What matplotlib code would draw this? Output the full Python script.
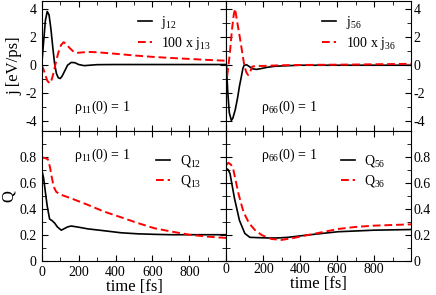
import numpy as np
import matplotlib
matplotlib.use('Agg')
import matplotlib.pyplot as plt
from matplotlib.ticker import MultipleLocator

plt.rcParams['font.family'] = ['Liberation Serif', 'DejaVu Serif']
plt.rcParams['mathtext.fontset'] = 'custom'
plt.rcParams['mathtext.rm'] = 'Liberation Serif'
plt.rcParams['mathtext.it'] = 'Liberation Serif:italic'
plt.rcParams['axes.unicode_minus'] = False
plt.rcParams['font.size'] = 10

# currents, rho_11(0) = 1
t_j12 = [0, 10, 20, 30, 40, 50, 60, 70, 80, 90, 100, 110, 125, 140, 160, 180, 200, 230, 260, 300, 400, 600, 800, 1000]
j12 = [0, 1.6, 3.2, 3.85, 3.6, 2.6, 1.3, 0.1, -0.6, -0.9, -0.95, -0.8, -0.4, 0.0, 0.2, 0.18, 0.05, -0.03, 0.0, 0.04, 0.05, 0.05, 0.05, 0.05]
t_j13 = [0, 10, 20, 30, 43, 55, 65, 75, 90, 105, 119, 135, 150, 170, 187, 220, 260, 300, 400, 500, 600, 700, 800, 900, 1000]
j13 = [0, -0.3, -0.7, -1.1, -1.3, -1.0, -0.5, 0.1, 0.9, 1.45, 1.65, 1.5, 1.25, 1.0, 0.88, 0.92, 0.95, 0.93, 0.82, 0.7, 0.6, 0.52, 0.45, 0.38, 0.32]

# currents, rho_66(0) = 1
t_j56 = [0, 8, 16, 27, 35, 48, 60, 71, 80, 90, 97, 110, 125, 140, 162, 185, 220, 260, 300, 400, 600, 800, 1000]
j56 = [0, -2.0, -3.4, -3.95, -3.8, -3.2, -2.4, -1.5, -0.9, -0.2, 0.0, 0.03, -0.1, -0.25, -0.3, -0.25, -0.15, -0.08, -0.05, 0.0, 0.0, 0.0, 0.0]
t_j36 = [0, 4, 10, 20, 30, 40, 47, 60, 73, 85, 97, 108, 118, 128, 140, 160, 200, 300, 500, 700, 1000]
j36 = [0, -0.8, -0.2, 1.0, 2.5, 3.6, 4.05, 3.0, 2.0, 1.0, 0.0, -0.5, -0.7, -0.5, -0.1, -0.05, -0.05, 0.0, 0.03, 0.05, 0.1]

# Q, rho_11(0) = 1
t_q12 = [0, 10, 19, 30, 43, 55, 70, 85, 106, 120, 140, 160, 200, 250, 330, 430, 520, 610, 700, 800, 900, 1000]
q12 = [0.70, 0.64, 0.54, 0.42, 0.32, 0.31, 0.29, 0.26, 0.235, 0.245, 0.26, 0.267, 0.258, 0.245, 0.232, 0.215, 0.207, 0.203, 0.2, 0.2, 0.2, 0.2]
t_q13 = [0, 20, 34, 45, 55, 65, 79, 100, 160, 250, 340, 430, 520, 610, 700, 800, 900, 1000]
q13 = [0.795, 0.79, 0.78, 0.72, 0.64, 0.57, 0.53, 0.51, 0.48, 0.43, 0.377, 0.334, 0.29, 0.25, 0.225, 0.20, 0.185, 0.175]

# Q, rho_66(0) = 1
t_q56 = [0, 10, 20, 44, 71, 100, 127, 160, 226, 280, 334, 442, 604, 800, 1000]
q56 = [0.71, 0.70, 0.67, 0.48, 0.31, 0.21, 0.18, 0.178, 0.175, 0.175, 0.18, 0.198, 0.223, 0.235, 0.24]
t_q36 = [0, 11, 25, 38, 50, 65, 80, 92, 105, 119, 137, 155, 175, 191, 220, 245, 299, 371, 442, 514, 604, 700, 800, 900, 1000]
q36 = [0.736, 0.754, 0.74, 0.70, 0.62, 0.52, 0.44, 0.38, 0.34, 0.30, 0.265, 0.236, 0.215, 0.198, 0.18, 0.167, 0.16, 0.177, 0.198, 0.218, 0.244, 0.26, 0.27, 0.275, 0.28]

fig, axs = plt.subplots(2, 2, figsize=(4.36, 2.95), dpi=100)
plt.subplots_adjust(left=0.0956, right=0.9427, top=0.9966, bottom=0.1163, hspace=0, wspace=0)

blk = dict(color='black', lw=1.2)
red = dict(color='red', lw=1.4, dashes=(4, 2))

panels = [
    (axs[0, 0], t_j12, j12, r'j$_{12}$', t_j13, j13, r'100 x j$_{13}$', r'ρ$_{11}$(0) = 1', 174),
    (axs[0, 1], t_j56, j56, r'j$_{56}$', t_j36, j36, r'100 x j$_{36}$', r'ρ$_{66}$(0) = 1', 185),
    (axs[1, 0], t_q12, q12, r'Q$_{12}$', t_q13, q13, r'Q$_{13}$', r'ρ$_{11}$(0) = 1', 174),
    (axs[1, 1], t_q56, q56, r'Q$_{56}$', t_q36, q36, r'Q$_{36}$', r'ρ$_{66}$(0) = 1', 185),
]

for i, (ax, tb, yb, lb, tr, yr, lr, note, xn) in enumerate(panels):
    ax.plot(tb, yb, label=lb, **blk)
    ax.plot(tr, yr, label=lr, **red)
    ax.set_xlim(0, 1000)
    ax.set_xticks(np.arange(0, 801, 200))
    ax.xaxis.set_minor_locator(MultipleLocator(100))
    ax.tick_params(which='both', direction='in', top=True, bottom=True, left=True, right=True, labelsize=10)
    ax.tick_params(which='major', length=4.5)
    ax.tick_params(which='minor', length=3)
    top = i < 2
    if top:
        ax.set_ylim(-4.7, 4.6)
        ax.set_yticks([-4, -2, 0, 2, 4])
        ax.yaxis.set_minor_locator(MultipleLocator(1))
        ax.tick_params(labelbottom=False)
        ax.text(xn, -3.05, note, ha='left', va='center', fontsize=10)
        leg_y = 0.9
    else:
        ax.set_ylim(0, 1.0)
        ax.set_yticks([0, 0.2, 0.4, 0.6, 0.8])
        ax.set_yticklabels(['0', '0.2', '0.4', '0.6', '0.8'])
        ax.yaxis.set_minor_locator(MultipleLocator(0.1))
        ax.set_xlabel('time [fs]', fontsize=12, labelpad=0)
        ax.text(xn, 0.81, note, ha='left', va='center', fontsize=10)
        leg_y = 0.83
    if i % 2 == 1:
        ax.tick_params(labelleft=False, labelright=True, pad=2)
    leg_x = 0.52 if top else 0.62
    ax.legend(loc='upper left', bbox_to_anchor=(leg_x, leg_y), frameon=False, fontsize=10,
              borderpad=0, borderaxespad=0, handlelength=1.0, handletextpad=0.7, labelspacing=0.3)

axs[0, 0].set_ylabel('j [eV/ps]', fontsize=12, labelpad=2)
axs[1, 0].set_ylabel('Q', fontsize=12, labelpad=2)

plt.savefig('out.png', dpi=100)
